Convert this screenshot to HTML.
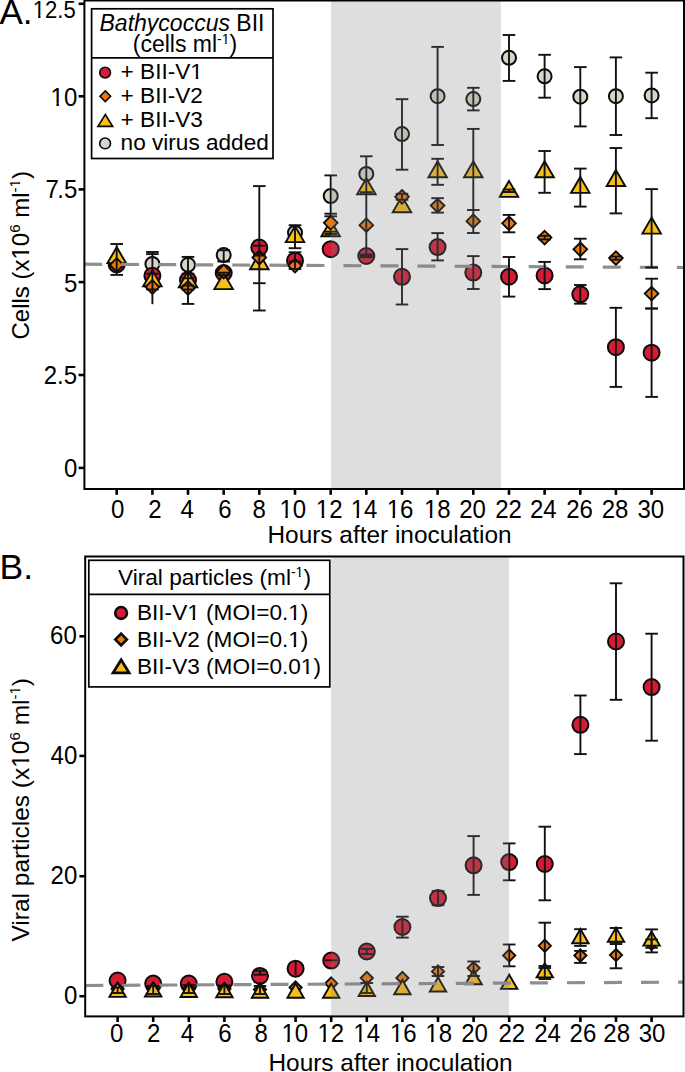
<!DOCTYPE html>
<html><head><meta charset="utf-8"><style>
html,body{margin:0;padding:0;background:#fff;width:685px;height:1072px;overflow:hidden}
svg{display:block}
text{font-family:"Liberation Sans",sans-serif;fill:#000}
</style></head><body>
<svg width="685" height="1072" viewBox="0 0 685 1072">
<rect x="0" y="0" width="685" height="1072" fill="#fff"/>
<circle cx="116.7" cy="262.0" r="7.0" fill="#d7d5c8" stroke="#0a0a0a" stroke-width="2.0"/>
<circle cx="152.4" cy="263.9" r="7.0" fill="#d7d5c8" stroke="#0a0a0a" stroke-width="2.0"/>
<circle cx="188.0" cy="264.8" r="7.0" fill="#d7d5c8" stroke="#0a0a0a" stroke-width="2.0"/>
<circle cx="223.7" cy="255.1" r="7.0" fill="#d7d5c8" stroke="#0a0a0a" stroke-width="2.0"/>
<circle cx="295.0" cy="232.7" r="7.0" fill="#d7d5c8" stroke="#0a0a0a" stroke-width="2.0"/>
<circle cx="330.7" cy="196.0" r="7.0" fill="#d7d5c8" stroke="#0a0a0a" stroke-width="2.0"/>
<circle cx="366.3" cy="173.9" r="7.0" fill="#d7d5c8" stroke="#0a0a0a" stroke-width="2.0"/>
<circle cx="402.0" cy="134.1" r="7.0" fill="#d7d5c8" stroke="#0a0a0a" stroke-width="2.0"/>
<circle cx="437.6" cy="96.2" r="7.0" fill="#d7d5c8" stroke="#0a0a0a" stroke-width="2.0"/>
<circle cx="473.3" cy="99.1" r="7.0" fill="#d7d5c8" stroke="#0a0a0a" stroke-width="2.0"/>
<circle cx="509.0" cy="57.8" r="7.0" fill="#d7d5c8" stroke="#0a0a0a" stroke-width="2.0"/>
<circle cx="544.6" cy="76.3" r="7.0" fill="#d7d5c8" stroke="#0a0a0a" stroke-width="2.0"/>
<circle cx="580.3" cy="96.7" r="7.0" fill="#d7d5c8" stroke="#0a0a0a" stroke-width="2.0"/>
<circle cx="615.9" cy="96.2" r="7.0" fill="#d7d5c8" stroke="#0a0a0a" stroke-width="2.0"/>
<circle cx="651.6" cy="95.4" r="7.0" fill="#d7d5c8" stroke="#0a0a0a" stroke-width="2.0"/>
<circle cx="116.7" cy="264.5" r="8.0" fill="#d61c34" stroke="#0a0a0a" stroke-width="2.0"/>
<circle cx="152.4" cy="275.7" r="8.0" fill="#d61c34" stroke="#0a0a0a" stroke-width="2.0"/>
<circle cx="188.0" cy="280.0" r="8.0" fill="#d61c34" stroke="#0a0a0a" stroke-width="2.0"/>
<circle cx="223.7" cy="273.0" r="8.0" fill="#d61c34" stroke="#0a0a0a" stroke-width="2.0"/>
<circle cx="259.3" cy="247.5" r="8.0" fill="#d61c34" stroke="#0a0a0a" stroke-width="2.0"/>
<circle cx="295.0" cy="260.7" r="8.0" fill="#d61c34" stroke="#0a0a0a" stroke-width="2.0"/>
<circle cx="330.7" cy="249.2" r="8.0" fill="#d61c34" stroke="#0a0a0a" stroke-width="2.0"/>
<circle cx="366.3" cy="256.0" r="8.0" fill="#d61c34" stroke="#0a0a0a" stroke-width="2.0"/>
<circle cx="402.0" cy="276.8" r="8.0" fill="#d61c34" stroke="#0a0a0a" stroke-width="2.0"/>
<circle cx="437.6" cy="247.1" r="8.0" fill="#d61c34" stroke="#0a0a0a" stroke-width="2.0"/>
<circle cx="473.3" cy="272.6" r="8.0" fill="#d61c34" stroke="#0a0a0a" stroke-width="2.0"/>
<circle cx="509.0" cy="276.7" r="8.0" fill="#d61c34" stroke="#0a0a0a" stroke-width="2.0"/>
<circle cx="544.6" cy="275.5" r="8.0" fill="#d61c34" stroke="#0a0a0a" stroke-width="2.0"/>
<circle cx="580.3" cy="294.3" r="8.0" fill="#d61c34" stroke="#0a0a0a" stroke-width="2.0"/>
<circle cx="615.9" cy="347.2" r="8.0" fill="#d61c34" stroke="#0a0a0a" stroke-width="2.0"/>
<circle cx="651.6" cy="352.7" r="8.0" fill="#d61c34" stroke="#0a0a0a" stroke-width="2.0"/>
<path d="M116.7 247.1L126.0 263.1L107.5 263.1Z" fill="#fabe1a" stroke="#0a0a0a" stroke-width="1.9"/>
<path d="M152.4 270.4L161.6 286.4L143.1 286.4Z" fill="#fabe1a" stroke="#0a0a0a" stroke-width="1.9"/>
<path d="M188.0 271.3L197.3 287.3L178.8 287.3Z" fill="#fabe1a" stroke="#0a0a0a" stroke-width="1.9"/>
<path d="M223.7 273.1L232.9 289.1L214.4 289.1Z" fill="#fabe1a" stroke="#0a0a0a" stroke-width="1.9"/>
<path d="M259.3 253.2L268.6 269.2L250.1 269.2Z" fill="#fabe1a" stroke="#0a0a0a" stroke-width="1.9"/>
<path d="M295.0 226.1L304.2 242.1L285.8 242.1Z" fill="#fabe1a" stroke="#0a0a0a" stroke-width="1.9"/>
<path d="M330.7 220.3L339.9 236.3L321.4 236.3Z" fill="#fabe1a" stroke="#0a0a0a" stroke-width="1.9"/>
<path d="M366.3 178.3L375.6 194.3L357.1 194.3Z" fill="#fabe1a" stroke="#0a0a0a" stroke-width="1.9"/>
<path d="M402.0 196.2L411.2 212.2L392.7 212.2Z" fill="#fabe1a" stroke="#0a0a0a" stroke-width="1.9"/>
<path d="M437.6 161.3L446.9 177.3L428.4 177.3Z" fill="#fabe1a" stroke="#0a0a0a" stroke-width="1.9"/>
<path d="M473.3 161.3L482.5 177.3L464.0 177.3Z" fill="#fabe1a" stroke="#0a0a0a" stroke-width="1.9"/>
<path d="M509.0 180.9L518.2 196.9L499.7 196.9Z" fill="#fabe1a" stroke="#0a0a0a" stroke-width="1.9"/>
<path d="M544.6 161.2L553.9 177.2L535.4 177.2Z" fill="#fabe1a" stroke="#0a0a0a" stroke-width="1.9"/>
<path d="M580.3 176.9L589.5 192.9L571.0 192.9Z" fill="#fabe1a" stroke="#0a0a0a" stroke-width="1.9"/>
<path d="M615.9 170.0L625.2 186.0L606.7 186.0Z" fill="#fabe1a" stroke="#0a0a0a" stroke-width="1.9"/>
<path d="M651.6 217.6L660.9 233.6L642.4 233.6Z" fill="#fabe1a" stroke="#0a0a0a" stroke-width="1.9"/>
<path d="M116.7 258.2L123.5 265.0L116.7 271.8L109.9 265.0Z" fill="#ee780c" stroke="#0a0a0a" stroke-width="1.9"/>
<path d="M152.4 280.2L159.2 287.0L152.4 293.8L145.6 287.0Z" fill="#ee780c" stroke="#0a0a0a" stroke-width="1.9"/>
<path d="M188.0 281.2L194.8 288.0L188.0 294.8L181.2 288.0Z" fill="#ee780c" stroke="#0a0a0a" stroke-width="1.9"/>
<path d="M223.7 264.7L230.5 271.5L223.7 278.3L216.9 271.5Z" fill="#ee780c" stroke="#0a0a0a" stroke-width="1.9"/>
<path d="M259.3 250.7L266.1 257.5L259.3 264.3L252.5 257.5Z" fill="#ee780c" stroke="#0a0a0a" stroke-width="1.9"/>
<path d="M295.0 258.9L301.8 265.7L295.0 272.5L288.2 265.7Z" fill="#ee780c" stroke="#0a0a0a" stroke-width="1.9"/>
<path d="M330.7 216.0L337.5 222.8L330.7 229.6L323.9 222.8Z" fill="#ee780c" stroke="#0a0a0a" stroke-width="1.9"/>
<path d="M366.3 218.4L373.1 225.2L366.3 232.0L359.5 225.2Z" fill="#ee780c" stroke="#0a0a0a" stroke-width="1.9"/>
<path d="M402.0 190.0L408.8 196.8L402.0 203.6L395.2 196.8Z" fill="#ee780c" stroke="#0a0a0a" stroke-width="1.9"/>
<path d="M437.6 198.8L444.4 205.6L437.6 212.4L430.8 205.6Z" fill="#ee780c" stroke="#0a0a0a" stroke-width="1.9"/>
<path d="M473.3 214.4L480.1 221.2L473.3 228.0L466.5 221.2Z" fill="#ee780c" stroke="#0a0a0a" stroke-width="1.9"/>
<path d="M509.0 216.5L515.8 223.3L509.0 230.1L502.2 223.3Z" fill="#ee780c" stroke="#0a0a0a" stroke-width="1.9"/>
<path d="M544.6 230.8L551.4 237.6L544.6 244.4L537.8 237.6Z" fill="#ee780c" stroke="#0a0a0a" stroke-width="1.9"/>
<path d="M580.3 242.5L587.1 249.3L580.3 256.1L573.5 249.3Z" fill="#ee780c" stroke="#0a0a0a" stroke-width="1.9"/>
<path d="M615.9 251.3L622.7 258.1L615.9 264.9L609.1 258.1Z" fill="#ee780c" stroke="#0a0a0a" stroke-width="1.9"/>
<path d="M651.6 286.8L658.4 293.6L651.6 300.4L644.8 293.6Z" fill="#ee780c" stroke="#0a0a0a" stroke-width="1.9"/>
<line x1="84.1" y1="264.2" x2="683" y2="267.5" stroke="#8e8e8e" stroke-width="3.2" stroke-dasharray="18 19.05"/>
<line x1="116.7" y1="244.0" x2="116.7" y2="274.9" stroke="#111" stroke-width="1.9"/>
<line x1="110.4" y1="244.0" x2="123.0" y2="244.0" stroke="#111" stroke-width="1.9"/>
<line x1="110.4" y1="274.9" x2="123.0" y2="274.9" stroke="#111" stroke-width="1.9"/>
<line x1="152.4" y1="252.0" x2="152.4" y2="289.5" stroke="#111" stroke-width="1.9"/>
<line x1="146.1" y1="252.0" x2="158.7" y2="252.0" stroke="#111" stroke-width="1.9"/>
<line x1="146.1" y1="289.5" x2="158.7" y2="289.5" stroke="#111" stroke-width="1.9"/>
<line x1="146.1" y1="254.1" x2="158.7" y2="254.1" stroke="#111" stroke-width="1.9"/>
<line x1="146.1" y1="273.7" x2="158.7" y2="273.7" stroke="#111" stroke-width="1.9"/>
<line x1="152.4" y1="289.5" x2="152.4" y2="304.2" stroke="#111" stroke-width="1.9"/>
<line x1="188.0" y1="256.9" x2="188.0" y2="303.9" stroke="#111" stroke-width="1.9"/>
<line x1="181.7" y1="256.9" x2="194.3" y2="256.9" stroke="#111" stroke-width="1.9"/>
<line x1="181.7" y1="303.9" x2="194.3" y2="303.9" stroke="#111" stroke-width="1.9"/>
<line x1="181.7" y1="273.7" x2="194.3" y2="273.7" stroke="#111" stroke-width="1.9"/>
<line x1="181.7" y1="278.3" x2="194.3" y2="278.3" stroke="#111" stroke-width="1.9"/>
<line x1="181.7" y1="285.5" x2="194.3" y2="285.5" stroke="#111" stroke-width="1.9"/>
<line x1="181.7" y1="289.5" x2="194.3" y2="289.5" stroke="#111" stroke-width="1.9"/>
<line x1="223.7" y1="250.2" x2="223.7" y2="261.5" stroke="#111" stroke-width="1.9"/>
<line x1="217.4" y1="250.2" x2="230.0" y2="250.2" stroke="#111" stroke-width="1.9"/>
<line x1="217.4" y1="261.5" x2="230.0" y2="261.5" stroke="#111" stroke-width="1.9"/>
<line x1="223.7" y1="272.7" x2="223.7" y2="275.3" stroke="#111" stroke-width="1.9"/>
<line x1="217.4" y1="272.7" x2="230.0" y2="272.7" stroke="#111" stroke-width="1.9"/>
<line x1="217.4" y1="275.3" x2="230.0" y2="275.3" stroke="#111" stroke-width="1.9"/>
<line x1="259.3" y1="186.1" x2="259.3" y2="310.5" stroke="#111" stroke-width="1.9"/>
<line x1="253.0" y1="186.1" x2="265.6" y2="186.1" stroke="#111" stroke-width="1.9"/>
<line x1="253.0" y1="310.5" x2="265.6" y2="310.5" stroke="#111" stroke-width="1.9"/>
<line x1="253.0" y1="245.7" x2="265.6" y2="245.7" stroke="#111" stroke-width="1.9"/>
<line x1="253.0" y1="253.8" x2="265.6" y2="253.8" stroke="#111" stroke-width="1.9"/>
<line x1="253.0" y1="255.6" x2="265.6" y2="255.6" stroke="#111" stroke-width="1.9"/>
<line x1="253.0" y1="283.2" x2="265.6" y2="283.2" stroke="#111" stroke-width="1.9"/>
<line x1="295.0" y1="225.2" x2="295.0" y2="248.2" stroke="#111" stroke-width="1.9"/>
<line x1="288.7" y1="225.2" x2="301.3" y2="225.2" stroke="#111" stroke-width="1.9"/>
<line x1="288.7" y1="248.2" x2="301.3" y2="248.2" stroke="#111" stroke-width="1.9"/>
<line x1="295.0" y1="252.3" x2="295.0" y2="269.0" stroke="#111" stroke-width="1.9"/>
<line x1="288.7" y1="252.3" x2="301.3" y2="252.3" stroke="#111" stroke-width="1.9"/>
<line x1="288.7" y1="269.0" x2="301.3" y2="269.0" stroke="#111" stroke-width="1.9"/>
<line x1="288.7" y1="261.5" x2="301.3" y2="261.5" stroke="#111" stroke-width="1.9"/>
<line x1="330.7" y1="175.4" x2="330.7" y2="216.3" stroke="#111" stroke-width="1.9"/>
<line x1="324.4" y1="175.4" x2="337.0" y2="175.4" stroke="#111" stroke-width="1.9"/>
<line x1="324.4" y1="216.3" x2="337.0" y2="216.3" stroke="#111" stroke-width="1.9"/>
<line x1="324.4" y1="213.7" x2="337.0" y2="213.7" stroke="#111" stroke-width="1.9"/>
<line x1="330.7" y1="231.7" x2="330.7" y2="234.0" stroke="#111" stroke-width="1.9"/>
<line x1="324.4" y1="231.7" x2="337.0" y2="231.7" stroke="#111" stroke-width="1.9"/>
<line x1="324.4" y1="234.0" x2="337.0" y2="234.0" stroke="#111" stroke-width="1.9"/>
<line x1="366.3" y1="156.3" x2="366.3" y2="192.2" stroke="#111" stroke-width="1.9"/>
<line x1="360.0" y1="156.3" x2="372.6" y2="156.3" stroke="#111" stroke-width="1.9"/>
<line x1="360.0" y1="192.2" x2="372.6" y2="192.2" stroke="#111" stroke-width="1.9"/>
<line x1="366.3" y1="192.2" x2="366.3" y2="256.0" stroke="#111" stroke-width="1.9"/>
<line x1="360.0" y1="256.0" x2="372.6" y2="256.0" stroke="#111" stroke-width="1.9"/>
<line x1="366.3" y1="254.6" x2="366.3" y2="257.2" stroke="#111" stroke-width="1.9"/>
<line x1="360.0" y1="254.6" x2="372.6" y2="254.6" stroke="#111" stroke-width="1.9"/>
<line x1="360.0" y1="257.2" x2="372.6" y2="257.2" stroke="#111" stroke-width="1.9"/>
<line x1="402.0" y1="99.2" x2="402.0" y2="169.7" stroke="#111" stroke-width="1.9"/>
<line x1="395.7" y1="99.2" x2="408.3" y2="99.2" stroke="#111" stroke-width="1.9"/>
<line x1="395.7" y1="169.7" x2="408.3" y2="169.7" stroke="#111" stroke-width="1.9"/>
<line x1="402.0" y1="193.8" x2="402.0" y2="199.8" stroke="#111" stroke-width="1.9"/>
<line x1="395.7" y1="193.8" x2="408.3" y2="193.8" stroke="#111" stroke-width="1.9"/>
<line x1="395.7" y1="199.8" x2="408.3" y2="199.8" stroke="#111" stroke-width="1.9"/>
<line x1="402.0" y1="249.1" x2="402.0" y2="304.5" stroke="#111" stroke-width="1.9"/>
<line x1="395.7" y1="249.1" x2="408.3" y2="249.1" stroke="#111" stroke-width="1.9"/>
<line x1="395.7" y1="304.5" x2="408.3" y2="304.5" stroke="#111" stroke-width="1.9"/>
<line x1="437.6" y1="46.9" x2="437.6" y2="145.0" stroke="#111" stroke-width="1.9"/>
<line x1="431.3" y1="46.9" x2="443.9" y2="46.9" stroke="#111" stroke-width="1.9"/>
<line x1="431.3" y1="145.0" x2="443.9" y2="145.0" stroke="#111" stroke-width="1.9"/>
<line x1="437.6" y1="158.8" x2="437.6" y2="184.8" stroke="#111" stroke-width="1.9"/>
<line x1="431.3" y1="158.8" x2="443.9" y2="158.8" stroke="#111" stroke-width="1.9"/>
<line x1="431.3" y1="184.8" x2="443.9" y2="184.8" stroke="#111" stroke-width="1.9"/>
<line x1="437.6" y1="198.2" x2="437.6" y2="212.6" stroke="#111" stroke-width="1.9"/>
<line x1="431.3" y1="198.2" x2="443.9" y2="198.2" stroke="#111" stroke-width="1.9"/>
<line x1="431.3" y1="212.6" x2="443.9" y2="212.6" stroke="#111" stroke-width="1.9"/>
<line x1="437.6" y1="233.1" x2="437.6" y2="260.4" stroke="#111" stroke-width="1.9"/>
<line x1="431.3" y1="233.1" x2="443.9" y2="233.1" stroke="#111" stroke-width="1.9"/>
<line x1="431.3" y1="260.4" x2="443.9" y2="260.4" stroke="#111" stroke-width="1.9"/>
<line x1="473.3" y1="87.8" x2="473.3" y2="110.4" stroke="#111" stroke-width="1.9"/>
<line x1="467.0" y1="87.8" x2="479.6" y2="87.8" stroke="#111" stroke-width="1.9"/>
<line x1="467.0" y1="110.4" x2="479.6" y2="110.4" stroke="#111" stroke-width="1.9"/>
<line x1="473.3" y1="128.9" x2="473.3" y2="210.0" stroke="#111" stroke-width="1.9"/>
<line x1="467.0" y1="128.9" x2="479.6" y2="128.9" stroke="#111" stroke-width="1.9"/>
<line x1="467.0" y1="210.0" x2="479.6" y2="210.0" stroke="#111" stroke-width="1.9"/>
<line x1="473.3" y1="210.0" x2="473.3" y2="233.0" stroke="#111" stroke-width="1.9"/>
<line x1="467.0" y1="233.0" x2="479.6" y2="233.0" stroke="#111" stroke-width="1.9"/>
<line x1="473.3" y1="256.1" x2="473.3" y2="289.0" stroke="#111" stroke-width="1.9"/>
<line x1="467.0" y1="256.1" x2="479.6" y2="256.1" stroke="#111" stroke-width="1.9"/>
<line x1="467.0" y1="289.0" x2="479.6" y2="289.0" stroke="#111" stroke-width="1.9"/>
<line x1="509.0" y1="35.0" x2="509.0" y2="80.9" stroke="#111" stroke-width="1.9"/>
<line x1="502.7" y1="35.0" x2="515.3" y2="35.0" stroke="#111" stroke-width="1.9"/>
<line x1="502.7" y1="80.9" x2="515.3" y2="80.9" stroke="#111" stroke-width="1.9"/>
<line x1="509.0" y1="189.5" x2="509.0" y2="192.0" stroke="#111" stroke-width="1.9"/>
<line x1="502.7" y1="189.5" x2="515.3" y2="189.5" stroke="#111" stroke-width="1.9"/>
<line x1="502.7" y1="192.0" x2="515.3" y2="192.0" stroke="#111" stroke-width="1.9"/>
<line x1="509.0" y1="214.9" x2="509.0" y2="232.3" stroke="#111" stroke-width="1.9"/>
<line x1="502.7" y1="214.9" x2="515.3" y2="214.9" stroke="#111" stroke-width="1.9"/>
<line x1="502.7" y1="232.3" x2="515.3" y2="232.3" stroke="#111" stroke-width="1.9"/>
<line x1="509.0" y1="257.0" x2="509.0" y2="296.6" stroke="#111" stroke-width="1.9"/>
<line x1="502.7" y1="257.0" x2="515.3" y2="257.0" stroke="#111" stroke-width="1.9"/>
<line x1="502.7" y1="296.6" x2="515.3" y2="296.6" stroke="#111" stroke-width="1.9"/>
<line x1="544.6" y1="54.8" x2="544.6" y2="97.7" stroke="#111" stroke-width="1.9"/>
<line x1="538.3" y1="54.8" x2="550.9" y2="54.8" stroke="#111" stroke-width="1.9"/>
<line x1="538.3" y1="97.7" x2="550.9" y2="97.7" stroke="#111" stroke-width="1.9"/>
<line x1="544.6" y1="151.0" x2="544.6" y2="192.8" stroke="#111" stroke-width="1.9"/>
<line x1="538.3" y1="151.0" x2="550.9" y2="151.0" stroke="#111" stroke-width="1.9"/>
<line x1="538.3" y1="192.8" x2="550.9" y2="192.8" stroke="#111" stroke-width="1.9"/>
<line x1="544.6" y1="235.8" x2="544.6" y2="239.4" stroke="#111" stroke-width="1.9"/>
<line x1="538.3" y1="235.8" x2="550.9" y2="235.8" stroke="#111" stroke-width="1.9"/>
<line x1="538.3" y1="239.4" x2="550.9" y2="239.4" stroke="#111" stroke-width="1.9"/>
<line x1="544.6" y1="261.9" x2="544.6" y2="289.1" stroke="#111" stroke-width="1.9"/>
<line x1="538.3" y1="261.9" x2="550.9" y2="261.9" stroke="#111" stroke-width="1.9"/>
<line x1="538.3" y1="289.1" x2="550.9" y2="289.1" stroke="#111" stroke-width="1.9"/>
<line x1="580.3" y1="67.1" x2="580.3" y2="126.4" stroke="#111" stroke-width="1.9"/>
<line x1="574.0" y1="67.1" x2="586.6" y2="67.1" stroke="#111" stroke-width="1.9"/>
<line x1="574.0" y1="126.4" x2="586.6" y2="126.4" stroke="#111" stroke-width="1.9"/>
<line x1="580.3" y1="168.6" x2="580.3" y2="206.6" stroke="#111" stroke-width="1.9"/>
<line x1="574.0" y1="168.6" x2="586.6" y2="168.6" stroke="#111" stroke-width="1.9"/>
<line x1="574.0" y1="206.6" x2="586.6" y2="206.6" stroke="#111" stroke-width="1.9"/>
<line x1="580.3" y1="238.7" x2="580.3" y2="259.3" stroke="#111" stroke-width="1.9"/>
<line x1="574.0" y1="238.7" x2="586.6" y2="238.7" stroke="#111" stroke-width="1.9"/>
<line x1="574.0" y1="259.3" x2="586.6" y2="259.3" stroke="#111" stroke-width="1.9"/>
<line x1="580.3" y1="285.0" x2="580.3" y2="303.7" stroke="#111" stroke-width="1.9"/>
<line x1="574.0" y1="285.0" x2="586.6" y2="285.0" stroke="#111" stroke-width="1.9"/>
<line x1="574.0" y1="303.7" x2="586.6" y2="303.7" stroke="#111" stroke-width="1.9"/>
<line x1="615.9" y1="57.4" x2="615.9" y2="135.0" stroke="#111" stroke-width="1.9"/>
<line x1="609.6" y1="57.4" x2="622.2" y2="57.4" stroke="#111" stroke-width="1.9"/>
<line x1="609.6" y1="135.0" x2="622.2" y2="135.0" stroke="#111" stroke-width="1.9"/>
<line x1="615.9" y1="148.0" x2="615.9" y2="213.4" stroke="#111" stroke-width="1.9"/>
<line x1="609.6" y1="148.0" x2="622.2" y2="148.0" stroke="#111" stroke-width="1.9"/>
<line x1="609.6" y1="213.4" x2="622.2" y2="213.4" stroke="#111" stroke-width="1.9"/>
<line x1="615.9" y1="256.5" x2="615.9" y2="259.7" stroke="#111" stroke-width="1.9"/>
<line x1="609.6" y1="256.5" x2="622.2" y2="256.5" stroke="#111" stroke-width="1.9"/>
<line x1="609.6" y1="259.7" x2="622.2" y2="259.7" stroke="#111" stroke-width="1.9"/>
<line x1="615.9" y1="307.8" x2="615.9" y2="386.9" stroke="#111" stroke-width="1.9"/>
<line x1="609.6" y1="307.8" x2="622.2" y2="307.8" stroke="#111" stroke-width="1.9"/>
<line x1="609.6" y1="386.9" x2="622.2" y2="386.9" stroke="#111" stroke-width="1.9"/>
<line x1="651.6" y1="72.7" x2="651.6" y2="118.2" stroke="#111" stroke-width="1.9"/>
<line x1="645.3" y1="72.7" x2="657.9" y2="72.7" stroke="#111" stroke-width="1.9"/>
<line x1="645.3" y1="118.2" x2="657.9" y2="118.2" stroke="#111" stroke-width="1.9"/>
<line x1="651.6" y1="189.1" x2="651.6" y2="267.5" stroke="#111" stroke-width="1.9"/>
<line x1="645.3" y1="189.1" x2="657.9" y2="189.1" stroke="#111" stroke-width="1.9"/>
<line x1="645.3" y1="267.5" x2="657.9" y2="267.5" stroke="#111" stroke-width="1.9"/>
<line x1="651.6" y1="278.7" x2="651.6" y2="308.5" stroke="#111" stroke-width="1.9"/>
<line x1="645.3" y1="278.7" x2="657.9" y2="278.7" stroke="#111" stroke-width="1.9"/>
<line x1="645.3" y1="308.5" x2="657.9" y2="308.5" stroke="#111" stroke-width="1.9"/>
<line x1="651.6" y1="308.5" x2="651.6" y2="396.9" stroke="#111" stroke-width="1.9"/>
<line x1="645.3" y1="308.5" x2="657.9" y2="308.5" stroke="#111" stroke-width="1.9"/>
<line x1="645.3" y1="396.9" x2="657.9" y2="396.9" stroke="#111" stroke-width="1.9"/>
<rect x="331" y="1" width="169.8" height="487" fill="#808080" fill-opacity="0.26"/>
<rect x="84.4" y="0.5" width="599.6" height="488.5" fill="none" stroke="#000" stroke-width="2"/>
<line x1="78.6" y1="467.9" x2="84" y2="467.9" stroke="#000" stroke-width="2.6"/>
<line x1="78.6" y1="375" x2="84" y2="375" stroke="#000" stroke-width="2.6"/>
<line x1="78.6" y1="282.1" x2="84" y2="282.1" stroke="#000" stroke-width="2.6"/>
<line x1="78.6" y1="189.4" x2="84" y2="189.4" stroke="#000" stroke-width="2.6"/>
<line x1="78.6" y1="96.3" x2="84" y2="96.3" stroke="#000" stroke-width="2.6"/>
<line x1="78.6" y1="3.8" x2="84" y2="3.8" stroke="#000" stroke-width="2.6"/>
<text class="nf" transform="translate(77.30,476.90) scale(0.96,1)" x="0" y="0" font-family="Liberation Sans, sans-serif" font-size="25" text-anchor="end">0</text>
<text class="nf" transform="translate(77.04,383.70) scale(0.96,1)" x="0" y="0" font-family="Liberation Sans, sans-serif" font-size="25" text-anchor="end">2.5</text>
<text class="nf" transform="translate(77.38,291.50) scale(0.96,1)" x="0" y="0" font-family="Liberation Sans, sans-serif" font-size="25" text-anchor="end">5</text>
<text class="nf" transform="translate(77.38,198.20) scale(0.96,1)" x="0" y="0" font-family="Liberation Sans, sans-serif" font-size="25" text-anchor="end">7<tspan dx="-1.6">.</tspan>5</text>
<text class="nf" transform="translate(77.26,105.55) scale(0.96,1)" x="0" y="0" font-family="Liberation Sans, sans-serif" font-size="25" text-anchor="end">10</text>
<text class="nf" transform="translate(75.72,17.82) scale(0.96,1)" x="0" y="0" font-family="Liberation Sans, sans-serif" font-size="23" text-anchor="end">12.5</text>
<line x1="116.7" y1="489" x2="116.7" y2="494.8" stroke="#000" stroke-width="2.6"/>
<text class="nf" transform="translate(117.57,517.50) scale(0.96,1)" x="0" y="0" font-family="Liberation Sans, sans-serif" font-size="25" text-anchor="middle">0</text>
<line x1="152.4" y1="489" x2="152.4" y2="494.8" stroke="#000" stroke-width="2.6"/>
<text class="nf" transform="translate(155.02,517.50) scale(0.96,1)" x="0" y="0" font-family="Liberation Sans, sans-serif" font-size="25" text-anchor="middle">2</text>
<line x1="188.0" y1="489" x2="188.0" y2="494.8" stroke="#000" stroke-width="2.6"/>
<text class="nf" transform="translate(187.06,517.53) scale(0.96,1)" x="0" y="0" font-family="Liberation Sans, sans-serif" font-size="25" text-anchor="middle">4</text>
<line x1="223.7" y1="489" x2="223.7" y2="494.8" stroke="#000" stroke-width="2.6"/>
<text class="nf" transform="translate(224.86,517.50) scale(0.96,1)" x="0" y="0" font-family="Liberation Sans, sans-serif" font-size="25" text-anchor="middle">6</text>
<line x1="259.3" y1="489" x2="259.3" y2="494.8" stroke="#000" stroke-width="2.6"/>
<text class="nf" transform="translate(259.23,517.50) scale(0.96,1)" x="0" y="0" font-family="Liberation Sans, sans-serif" font-size="25" text-anchor="middle">8</text>
<line x1="295.0" y1="489" x2="295.0" y2="494.8" stroke="#000" stroke-width="2.6"/>
<text class="nf" transform="translate(292.80,517.50) scale(0.96,1)" x="0" y="0" font-family="Liberation Sans, sans-serif" font-size="25" text-anchor="middle">10</text>
<line x1="330.7" y1="489" x2="330.7" y2="494.8" stroke="#000" stroke-width="2.6"/>
<text class="nf" transform="translate(329.18,517.50) scale(0.96,1)" x="0" y="0" font-family="Liberation Sans, sans-serif" font-size="25" text-anchor="middle">12</text>
<line x1="366.3" y1="489" x2="366.3" y2="494.8" stroke="#000" stroke-width="2.6"/>
<text class="nf" transform="translate(364.03,517.50) scale(0.96,1)" x="0" y="0" font-family="Liberation Sans, sans-serif" font-size="25" text-anchor="middle">14</text>
<line x1="402.0" y1="489" x2="402.0" y2="494.8" stroke="#000" stroke-width="2.6"/>
<text class="nf" transform="translate(400.06,517.50) scale(0.96,1)" x="0" y="0" font-family="Liberation Sans, sans-serif" font-size="25" text-anchor="middle">16</text>
<line x1="437.6" y1="489" x2="437.6" y2="494.8" stroke="#000" stroke-width="2.6"/>
<text class="nf" transform="translate(437.34,517.50) scale(0.96,1)" x="0" y="0" font-family="Liberation Sans, sans-serif" font-size="25" text-anchor="middle">18</text>
<line x1="473.3" y1="489" x2="473.3" y2="494.8" stroke="#000" stroke-width="2.6"/>
<text class="nf" transform="translate(472.58,517.50) scale(0.96,1)" x="0" y="0" font-family="Liberation Sans, sans-serif" font-size="25" text-anchor="middle">20</text>
<line x1="509.0" y1="489" x2="509.0" y2="494.8" stroke="#000" stroke-width="2.6"/>
<text class="nf" transform="translate(508.55,517.50) scale(0.96,1)" x="0" y="0" font-family="Liberation Sans, sans-serif" font-size="25" text-anchor="middle">22</text>
<line x1="544.6" y1="489" x2="544.6" y2="494.8" stroke="#000" stroke-width="2.6"/>
<text class="nf" transform="translate(543.30,517.50) scale(0.96,1)" x="0" y="0" font-family="Liberation Sans, sans-serif" font-size="25" text-anchor="middle">24</text>
<line x1="580.3" y1="489" x2="580.3" y2="494.8" stroke="#000" stroke-width="2.6"/>
<text class="nf" transform="translate(579.58,517.50) scale(0.96,1)" x="0" y="0" font-family="Liberation Sans, sans-serif" font-size="25" text-anchor="middle">26</text>
<line x1="615.9" y1="489" x2="615.9" y2="494.8" stroke="#000" stroke-width="2.6"/>
<text class="nf" transform="translate(615.12,517.50) scale(0.96,1)" x="0" y="0" font-family="Liberation Sans, sans-serif" font-size="25" text-anchor="middle">28</text>
<line x1="651.6" y1="489" x2="651.6" y2="494.8" stroke="#000" stroke-width="2.6"/>
<text class="nf" transform="translate(650.72,517.50) scale(0.96,1)" x="0" y="0" font-family="Liberation Sans, sans-serif" font-size="25" text-anchor="middle">30</text>
<text x="267.5" y="543.2" font-family="Liberation Sans, sans-serif" font-size="24.4">Hours after inoculation</text>
<text class="nf" transform="translate(29,339.5) rotate(-90)" font-family="Liberation Sans, sans-serif" font-size="24">Cells (x10<tspan font-size="15" dy="-9">6</tspan><tspan dy="9"> ml</tspan><tspan font-size="15" dy="-9">-1</tspan><tspan dy="9">)</tspan></text>
<text x="-0.5" y="24.3" font-family="Liberation Sans, sans-serif" font-size="35">A.</text>
<rect x="91.6" y="8.8" width="181.4" height="149.7" fill="#fff" stroke="#000" stroke-width="1.7"/>
<line x1="91.6" y1="57.8" x2="273" y2="57.8" stroke="#000" stroke-width="1.7"/>
<text x="182" y="30.7" font-family="Liberation Sans, sans-serif" font-size="23" text-anchor="middle"><tspan font-style="italic">Bathycoccus</tspan> BII</text>
<text class="nf" x="185" y="51.6" font-family="Liberation Sans, sans-serif" font-size="23" text-anchor="middle">(cells ml<tspan font-size="14" dy="-8">-1</tspan><tspan dy="8">)</tspan></text>
<circle cx="105.1" cy="72.6" r="5.4" fill="#d61c34" stroke="#0a0a0a" stroke-width="1.6"/>
<path d="M105.3 90.9L110.6 96.2L105.3 101.5L100.0 96.2Z" fill="#ee780c" stroke="#0a0a0a" stroke-width="1.6"/>
<path d="M105.3 114.5L112.6 126.3L98.0 126.3Z" fill="#fabe1a" stroke="#0a0a0a" stroke-width="1.7"/>
<circle cx="105.1" cy="143.4" r="5.4" fill="#d7d5c8" stroke="#0a0a0a" stroke-width="1.6"/>
<text class="nf" x="120.6" y="79" font-family="Liberation Sans, sans-serif" font-size="22.6">+ BII-V1</text>
<text class="nf" x="120.6" y="103" font-family="Liberation Sans, sans-serif" font-size="22.6">+ BII-V2</text>
<text class="nf" x="120.6" y="127" font-family="Liberation Sans, sans-serif" font-size="22.6">+ BII-V3</text>
<text class="nf" x="120.6" y="149.5" font-family="Liberation Sans, sans-serif" font-size="22.6">no virus added</text>
<circle cx="117.6" cy="980.5" r="8.0" fill="#d61c34" stroke="#0a0a0a" stroke-width="2.0"/>
<circle cx="153.2" cy="983.6" r="8.0" fill="#d61c34" stroke="#0a0a0a" stroke-width="2.0"/>
<circle cx="188.8" cy="983.6" r="8.0" fill="#d61c34" stroke="#0a0a0a" stroke-width="2.0"/>
<circle cx="224.4" cy="981.8" r="8.0" fill="#d61c34" stroke="#0a0a0a" stroke-width="2.0"/>
<circle cx="260.0" cy="975.9" r="8.0" fill="#d61c34" stroke="#0a0a0a" stroke-width="2.0"/>
<circle cx="295.6" cy="968.7" r="8.0" fill="#d61c34" stroke="#0a0a0a" stroke-width="2.0"/>
<circle cx="331.2" cy="960.6" r="8.0" fill="#d61c34" stroke="#0a0a0a" stroke-width="2.0"/>
<circle cx="366.8" cy="951.5" r="8.0" fill="#d61c34" stroke="#0a0a0a" stroke-width="2.0"/>
<circle cx="402.4" cy="927.0" r="8.0" fill="#d61c34" stroke="#0a0a0a" stroke-width="2.0"/>
<circle cx="438.0" cy="898.1" r="8.0" fill="#d61c34" stroke="#0a0a0a" stroke-width="2.0"/>
<circle cx="473.6" cy="865.3" r="8.0" fill="#d61c34" stroke="#0a0a0a" stroke-width="2.0"/>
<circle cx="509.2" cy="862.1" r="8.0" fill="#d61c34" stroke="#0a0a0a" stroke-width="2.0"/>
<circle cx="544.8" cy="864.0" r="8.0" fill="#d61c34" stroke="#0a0a0a" stroke-width="2.0"/>
<circle cx="580.4" cy="724.8" r="8.0" fill="#d61c34" stroke="#0a0a0a" stroke-width="2.0"/>
<circle cx="616.0" cy="641.5" r="8.0" fill="#d61c34" stroke="#0a0a0a" stroke-width="2.0"/>
<circle cx="651.6" cy="687.1" r="8.0" fill="#d61c34" stroke="#0a0a0a" stroke-width="2.0"/>
<path d="M117.6 982.9L123.7 989.0L117.6 995.1L111.5 989.0Z" fill="#ee780c" stroke="#0a0a0a" stroke-width="1.9"/>
<path d="M153.2 982.9L159.3 989.0L153.2 995.1L147.1 989.0Z" fill="#ee780c" stroke="#0a0a0a" stroke-width="1.9"/>
<path d="M188.8 982.9L194.9 989.0L188.8 995.1L182.7 989.0Z" fill="#ee780c" stroke="#0a0a0a" stroke-width="1.9"/>
<path d="M224.4 982.9L230.5 989.0L224.4 995.1L218.3 989.0Z" fill="#ee780c" stroke="#0a0a0a" stroke-width="1.9"/>
<path d="M260.0 983.4L266.1 989.5L260.0 995.6L253.9 989.5Z" fill="#ee780c" stroke="#0a0a0a" stroke-width="1.9"/>
<path d="M295.6 981.4L301.7 987.5L295.6 993.6L289.5 987.5Z" fill="#ee780c" stroke="#0a0a0a" stroke-width="1.9"/>
<path d="M331.2 977.4L337.3 983.5L331.2 989.6L325.1 983.5Z" fill="#ee780c" stroke="#0a0a0a" stroke-width="1.9"/>
<path d="M366.8 971.9L372.9 978.0L366.8 984.1L360.7 978.0Z" fill="#ee780c" stroke="#0a0a0a" stroke-width="1.9"/>
<path d="M402.4 971.9L408.5 978.0L402.4 984.1L396.3 978.0Z" fill="#ee780c" stroke="#0a0a0a" stroke-width="1.9"/>
<path d="M438.0 965.3L444.1 971.4L438.0 977.5L431.9 971.4Z" fill="#ee780c" stroke="#0a0a0a" stroke-width="1.9"/>
<path d="M473.6 962.0L479.7 968.1L473.6 974.2L467.5 968.1Z" fill="#ee780c" stroke="#0a0a0a" stroke-width="1.9"/>
<path d="M509.2 949.4L515.3 955.5L509.2 961.6L503.1 955.5Z" fill="#ee780c" stroke="#0a0a0a" stroke-width="1.9"/>
<path d="M544.8 939.7L550.9 945.8L544.8 951.9L538.7 945.8Z" fill="#ee780c" stroke="#0a0a0a" stroke-width="1.9"/>
<path d="M580.4 949.4L586.5 955.5L580.4 961.6L574.3 955.5Z" fill="#ee780c" stroke="#0a0a0a" stroke-width="1.9"/>
<path d="M616.0 949.0L622.1 955.1L616.0 961.2L609.9 955.1Z" fill="#ee780c" stroke="#0a0a0a" stroke-width="1.9"/>
<path d="M651.6 937.6L657.7 943.7L651.6 949.8L645.5 943.7Z" fill="#ee780c" stroke="#0a0a0a" stroke-width="1.9"/>
<path d="M117.6 982.7L125.8 996.9L109.4 996.9Z" fill="#fabe1a" stroke="#0a0a0a" stroke-width="1.9"/>
<path d="M153.2 982.3L161.4 996.5L145.0 996.5Z" fill="#fabe1a" stroke="#0a0a0a" stroke-width="1.9"/>
<path d="M188.8 982.8L197.0 997.0L180.6 997.0Z" fill="#fabe1a" stroke="#0a0a0a" stroke-width="1.9"/>
<path d="M224.4 983.1L232.6 997.3L216.2 997.3Z" fill="#fabe1a" stroke="#0a0a0a" stroke-width="1.9"/>
<path d="M260.0 983.6L268.2 997.8L251.8 997.8Z" fill="#fabe1a" stroke="#0a0a0a" stroke-width="1.9"/>
<path d="M295.6 983.6L303.8 997.8L287.4 997.8Z" fill="#fabe1a" stroke="#0a0a0a" stroke-width="1.9"/>
<path d="M331.2 983.6L339.4 997.8L323.0 997.8Z" fill="#fabe1a" stroke="#0a0a0a" stroke-width="1.9"/>
<path d="M366.8 981.8L375.0 996.0L358.6 996.0Z" fill="#fabe1a" stroke="#0a0a0a" stroke-width="1.9"/>
<path d="M402.4 980.0L410.6 994.2L394.2 994.2Z" fill="#fabe1a" stroke="#0a0a0a" stroke-width="1.9"/>
<path d="M438.0 977.3L446.2 991.5L429.8 991.5Z" fill="#fabe1a" stroke="#0a0a0a" stroke-width="1.9"/>
<path d="M473.6 970.0L481.8 984.2L465.4 984.2Z" fill="#fabe1a" stroke="#0a0a0a" stroke-width="1.9"/>
<path d="M509.2 974.7L517.4 988.9L501.0 988.9Z" fill="#fabe1a" stroke="#0a0a0a" stroke-width="1.9"/>
<path d="M544.8 963.2L553.0 977.4L536.6 977.4Z" fill="#fabe1a" stroke="#0a0a0a" stroke-width="1.9"/>
<path d="M580.4 929.0L588.6 943.2L572.2 943.2Z" fill="#fabe1a" stroke="#0a0a0a" stroke-width="1.9"/>
<path d="M616.0 927.6L624.2 941.8L607.8 941.8Z" fill="#fabe1a" stroke="#0a0a0a" stroke-width="1.9"/>
<path d="M651.6 931.4L659.8 945.6L643.4 945.6Z" fill="#fabe1a" stroke="#0a0a0a" stroke-width="1.9"/>
<line x1="85.3" y1="985.5" x2="683" y2="982.1" stroke="#8e8e8e" stroke-width="3.2" stroke-dasharray="18 19.05"/>
<line x1="117.6" y1="987.5" x2="117.6" y2="993.0" stroke="#111" stroke-width="1.9"/>
<line x1="111.3" y1="987.5" x2="123.9" y2="987.5" stroke="#111" stroke-width="1.9"/>
<line x1="111.3" y1="993.0" x2="123.9" y2="993.0" stroke="#111" stroke-width="1.9"/>
<line x1="153.2" y1="986.0" x2="153.2" y2="994.0" stroke="#111" stroke-width="1.9"/>
<line x1="146.9" y1="986.0" x2="159.5" y2="986.0" stroke="#111" stroke-width="1.9"/>
<line x1="146.9" y1="994.0" x2="159.5" y2="994.0" stroke="#111" stroke-width="1.9"/>
<line x1="188.8" y1="985.0" x2="188.8" y2="993.0" stroke="#111" stroke-width="1.9"/>
<line x1="182.5" y1="985.0" x2="195.1" y2="985.0" stroke="#111" stroke-width="1.9"/>
<line x1="182.5" y1="993.0" x2="195.1" y2="993.0" stroke="#111" stroke-width="1.9"/>
<line x1="224.4" y1="985.5" x2="224.4" y2="994.0" stroke="#111" stroke-width="1.9"/>
<line x1="218.1" y1="985.5" x2="230.7" y2="985.5" stroke="#111" stroke-width="1.9"/>
<line x1="218.1" y1="994.0" x2="230.7" y2="994.0" stroke="#111" stroke-width="1.9"/>
<line x1="260.0" y1="970.7" x2="260.0" y2="974.7" stroke="#111" stroke-width="1.9"/>
<line x1="253.7" y1="970.7" x2="266.3" y2="970.7" stroke="#111" stroke-width="1.9"/>
<line x1="253.7" y1="974.7" x2="266.3" y2="974.7" stroke="#111" stroke-width="1.9"/>
<line x1="260.0" y1="986.0" x2="260.0" y2="994.0" stroke="#111" stroke-width="1.9"/>
<line x1="253.7" y1="986.0" x2="266.3" y2="986.0" stroke="#111" stroke-width="1.9"/>
<line x1="253.7" y1="994.0" x2="266.3" y2="994.0" stroke="#111" stroke-width="1.9"/>
<line x1="295.6" y1="962.0" x2="295.6" y2="975.0" stroke="#111" stroke-width="1.9"/>
<line x1="324.9" y1="960.3" x2="337.5" y2="960.3" stroke="#111" stroke-width="1.9"/>
<line x1="366.8" y1="949.0" x2="366.8" y2="954.0" stroke="#111" stroke-width="1.9"/>
<line x1="360.5" y1="949.0" x2="373.1" y2="949.0" stroke="#111" stroke-width="1.9"/>
<line x1="360.5" y1="954.0" x2="373.1" y2="954.0" stroke="#111" stroke-width="1.9"/>
<line x1="366.8" y1="983.0" x2="366.8" y2="993.0" stroke="#111" stroke-width="1.9"/>
<line x1="360.5" y1="983.0" x2="373.1" y2="983.0" stroke="#111" stroke-width="1.9"/>
<line x1="360.5" y1="993.0" x2="373.1" y2="993.0" stroke="#111" stroke-width="1.9"/>
<line x1="402.4" y1="916.7" x2="402.4" y2="937.6" stroke="#111" stroke-width="1.9"/>
<line x1="396.1" y1="916.7" x2="408.7" y2="916.7" stroke="#111" stroke-width="1.9"/>
<line x1="396.1" y1="937.6" x2="408.7" y2="937.6" stroke="#111" stroke-width="1.9"/>
<line x1="438.0" y1="891.0" x2="438.0" y2="905.2" stroke="#111" stroke-width="1.9"/>
<line x1="431.7" y1="891.0" x2="444.3" y2="891.0" stroke="#111" stroke-width="1.9"/>
<line x1="431.7" y1="905.2" x2="444.3" y2="905.2" stroke="#111" stroke-width="1.9"/>
<line x1="438.0" y1="967.0" x2="438.0" y2="976.0" stroke="#111" stroke-width="1.9"/>
<line x1="431.7" y1="967.0" x2="444.3" y2="967.0" stroke="#111" stroke-width="1.9"/>
<line x1="431.7" y1="976.0" x2="444.3" y2="976.0" stroke="#111" stroke-width="1.9"/>
<line x1="473.6" y1="836.1" x2="473.6" y2="894.9" stroke="#111" stroke-width="1.9"/>
<line x1="467.3" y1="836.1" x2="479.9" y2="836.1" stroke="#111" stroke-width="1.9"/>
<line x1="467.3" y1="894.9" x2="479.9" y2="894.9" stroke="#111" stroke-width="1.9"/>
<line x1="473.6" y1="961.5" x2="473.6" y2="976.0" stroke="#111" stroke-width="1.9"/>
<line x1="467.3" y1="961.5" x2="479.9" y2="961.5" stroke="#111" stroke-width="1.9"/>
<line x1="467.3" y1="976.0" x2="479.9" y2="976.0" stroke="#111" stroke-width="1.9"/>
<line x1="509.2" y1="843.4" x2="509.2" y2="880.3" stroke="#111" stroke-width="1.9"/>
<line x1="502.9" y1="843.4" x2="515.5" y2="843.4" stroke="#111" stroke-width="1.9"/>
<line x1="502.9" y1="880.3" x2="515.5" y2="880.3" stroke="#111" stroke-width="1.9"/>
<line x1="509.2" y1="944.5" x2="509.2" y2="966.3" stroke="#111" stroke-width="1.9"/>
<line x1="502.9" y1="944.5" x2="515.5" y2="944.5" stroke="#111" stroke-width="1.9"/>
<line x1="502.9" y1="966.3" x2="515.5" y2="966.3" stroke="#111" stroke-width="1.9"/>
<line x1="544.8" y1="826.7" x2="544.8" y2="900.3" stroke="#111" stroke-width="1.9"/>
<line x1="538.5" y1="826.7" x2="551.1" y2="826.7" stroke="#111" stroke-width="1.9"/>
<line x1="538.5" y1="900.3" x2="551.1" y2="900.3" stroke="#111" stroke-width="1.9"/>
<line x1="544.8" y1="922.7" x2="544.8" y2="968.0" stroke="#111" stroke-width="1.9"/>
<line x1="538.5" y1="922.7" x2="551.1" y2="922.7" stroke="#111" stroke-width="1.9"/>
<line x1="538.5" y1="968.0" x2="551.1" y2="968.0" stroke="#111" stroke-width="1.9"/>
<line x1="544.8" y1="966.0" x2="544.8" y2="979.0" stroke="#111" stroke-width="1.9"/>
<line x1="538.5" y1="966.0" x2="551.1" y2="966.0" stroke="#111" stroke-width="1.9"/>
<line x1="538.5" y1="979.0" x2="551.1" y2="979.0" stroke="#111" stroke-width="1.9"/>
<line x1="580.4" y1="695.5" x2="580.4" y2="754.1" stroke="#111" stroke-width="1.9"/>
<line x1="574.1" y1="695.5" x2="586.7" y2="695.5" stroke="#111" stroke-width="1.9"/>
<line x1="574.1" y1="754.1" x2="586.7" y2="754.1" stroke="#111" stroke-width="1.9"/>
<line x1="580.4" y1="929.2" x2="580.4" y2="945.9" stroke="#111" stroke-width="1.9"/>
<line x1="574.1" y1="929.2" x2="586.7" y2="929.2" stroke="#111" stroke-width="1.9"/>
<line x1="574.1" y1="945.9" x2="586.7" y2="945.9" stroke="#111" stroke-width="1.9"/>
<line x1="580.4" y1="950.9" x2="580.4" y2="962.9" stroke="#111" stroke-width="1.9"/>
<line x1="574.1" y1="950.9" x2="586.7" y2="950.9" stroke="#111" stroke-width="1.9"/>
<line x1="574.1" y1="962.9" x2="586.7" y2="962.9" stroke="#111" stroke-width="1.9"/>
<line x1="616.0" y1="583.3" x2="616.0" y2="699.8" stroke="#111" stroke-width="1.9"/>
<line x1="609.7" y1="583.3" x2="622.3" y2="583.3" stroke="#111" stroke-width="1.9"/>
<line x1="609.7" y1="699.8" x2="622.3" y2="699.8" stroke="#111" stroke-width="1.9"/>
<line x1="616.0" y1="928.0" x2="616.0" y2="944.0" stroke="#111" stroke-width="1.9"/>
<line x1="609.7" y1="928.0" x2="622.3" y2="928.0" stroke="#111" stroke-width="1.9"/>
<line x1="609.7" y1="944.0" x2="622.3" y2="944.0" stroke="#111" stroke-width="1.9"/>
<line x1="616.0" y1="942.0" x2="616.0" y2="968.3" stroke="#111" stroke-width="1.9"/>
<line x1="609.7" y1="942.0" x2="622.3" y2="942.0" stroke="#111" stroke-width="1.9"/>
<line x1="609.7" y1="968.3" x2="622.3" y2="968.3" stroke="#111" stroke-width="1.9"/>
<line x1="651.6" y1="633.7" x2="651.6" y2="740.7" stroke="#111" stroke-width="1.9"/>
<line x1="645.3" y1="633.7" x2="657.9" y2="633.7" stroke="#111" stroke-width="1.9"/>
<line x1="645.3" y1="740.7" x2="657.9" y2="740.7" stroke="#111" stroke-width="1.9"/>
<line x1="651.6" y1="929.4" x2="651.6" y2="952.4" stroke="#111" stroke-width="1.9"/>
<line x1="645.3" y1="929.4" x2="657.9" y2="929.4" stroke="#111" stroke-width="1.9"/>
<line x1="645.3" y1="952.4" x2="657.9" y2="952.4" stroke="#111" stroke-width="1.9"/>
<line x1="651.6" y1="939.4" x2="651.6" y2="947.8" stroke="#111" stroke-width="1.9"/>
<line x1="645.3" y1="939.4" x2="657.9" y2="939.4" stroke="#111" stroke-width="1.9"/>
<line x1="645.3" y1="947.8" x2="657.9" y2="947.8" stroke="#111" stroke-width="1.9"/>
<rect x="331.2" y="557.5" width="177.8" height="458" fill="#808080" fill-opacity="0.26"/>
<rect x="85.2" y="556.5" width="598.3" height="459.9" fill="none" stroke="#000" stroke-width="2"/>
<line x1="79.4" y1="996.2" x2="84.5" y2="996.2" stroke="#000" stroke-width="2.6"/>
<text class="nf" transform="translate(77.26,1003.90) scale(0.96,1)" x="0" y="0" font-family="Liberation Sans, sans-serif" font-size="25" text-anchor="end">0</text>
<line x1="79.4" y1="876.2" x2="84.5" y2="876.2" stroke="#000" stroke-width="2.6"/>
<text class="nf" transform="translate(77.26,883.90) scale(0.96,1)" x="0" y="0" font-family="Liberation Sans, sans-serif" font-size="25" text-anchor="end">20</text>
<line x1="79.4" y1="755.9" x2="84.5" y2="755.9" stroke="#000" stroke-width="2.6"/>
<text class="nf" transform="translate(77.26,763.90) scale(0.96,1)" x="0" y="0" font-family="Liberation Sans, sans-serif" font-size="25" text-anchor="end">40</text>
<line x1="79.4" y1="636.3" x2="84.5" y2="636.3" stroke="#000" stroke-width="2.6"/>
<text class="nf" transform="translate(76.81,644.15) scale(0.96,1)" x="0" y="0" font-family="Liberation Sans, sans-serif" font-size="25" text-anchor="end">60</text>
<line x1="117.6" y1="1016.4" x2="117.6" y2="1022" stroke="#000" stroke-width="2.6"/>
<text class="nf" transform="translate(116.72,1042.19) scale(0.96,1)" x="0" y="0" font-family="Liberation Sans, sans-serif" font-size="25" text-anchor="middle">0</text>
<line x1="153.2" y1="1016.4" x2="153.2" y2="1022" stroke="#000" stroke-width="2.6"/>
<text class="nf" transform="translate(153.65,1042.20) scale(0.96,1)" x="0" y="0" font-family="Liberation Sans, sans-serif" font-size="25" text-anchor="middle">2</text>
<line x1="188.8" y1="1016.4" x2="188.8" y2="1022" stroke="#000" stroke-width="2.6"/>
<text class="nf" transform="translate(187.45,1042.22) scale(0.96,1)" x="0" y="0" font-family="Liberation Sans, sans-serif" font-size="25" text-anchor="middle">4</text>
<line x1="224.4" y1="1016.4" x2="224.4" y2="1022" stroke="#000" stroke-width="2.6"/>
<text class="nf" transform="translate(225.00,1042.19) scale(0.96,1)" x="0" y="0" font-family="Liberation Sans, sans-serif" font-size="25" text-anchor="middle">6</text>
<line x1="260.0" y1="1016.4" x2="260.0" y2="1022" stroke="#000" stroke-width="2.6"/>
<text class="nf" transform="translate(261.13,1042.20) scale(0.96,1)" x="0" y="0" font-family="Liberation Sans, sans-serif" font-size="25" text-anchor="middle">8</text>
<line x1="295.6" y1="1016.4" x2="295.6" y2="1022" stroke="#000" stroke-width="2.6"/>
<text class="nf" transform="translate(294.80,1042.20) scale(0.96,1)" x="0" y="0" font-family="Liberation Sans, sans-serif" font-size="25" text-anchor="middle">10</text>
<line x1="331.2" y1="1016.4" x2="331.2" y2="1022" stroke="#000" stroke-width="2.6"/>
<text class="nf" transform="translate(330.75,1042.20) scale(0.96,1)" x="0" y="0" font-family="Liberation Sans, sans-serif" font-size="25" text-anchor="middle">12</text>
<line x1="366.8" y1="1016.4" x2="366.8" y2="1022" stroke="#000" stroke-width="2.6"/>
<text class="nf" transform="translate(366.68,1042.20) scale(0.96,1)" x="0" y="0" font-family="Liberation Sans, sans-serif" font-size="25" text-anchor="middle">14</text>
<line x1="402.4" y1="1016.4" x2="402.4" y2="1022" stroke="#000" stroke-width="2.6"/>
<text class="nf" transform="translate(403.34,1042.20) scale(0.96,1)" x="0" y="0" font-family="Liberation Sans, sans-serif" font-size="25" text-anchor="middle">16</text>
<line x1="438.0" y1="1016.4" x2="438.0" y2="1022" stroke="#000" stroke-width="2.6"/>
<text class="nf" transform="translate(438.65,1042.20) scale(0.96,1)" x="0" y="0" font-family="Liberation Sans, sans-serif" font-size="25" text-anchor="middle">18</text>
<line x1="473.6" y1="1016.4" x2="473.6" y2="1022" stroke="#000" stroke-width="2.6"/>
<text class="nf" transform="translate(474.58,1042.20) scale(0.96,1)" x="0" y="0" font-family="Liberation Sans, sans-serif" font-size="25" text-anchor="middle">20</text>
<line x1="509.2" y1="1016.4" x2="509.2" y2="1022" stroke="#000" stroke-width="2.6"/>
<text class="nf" transform="translate(511.83,1042.20) scale(0.96,1)" x="0" y="0" font-family="Liberation Sans, sans-serif" font-size="25" text-anchor="middle">22</text>
<line x1="544.8" y1="1016.4" x2="544.8" y2="1022" stroke="#000" stroke-width="2.6"/>
<text class="nf" transform="translate(547.58,1042.20) scale(0.96,1)" x="0" y="0" font-family="Liberation Sans, sans-serif" font-size="25" text-anchor="middle">24</text>
<line x1="580.4" y1="1016.4" x2="580.4" y2="1022" stroke="#000" stroke-width="2.6"/>
<text class="nf" transform="translate(582.92,1042.20) scale(0.96,1)" x="0" y="0" font-family="Liberation Sans, sans-serif" font-size="25" text-anchor="middle">26</text>
<line x1="616.0" y1="1016.4" x2="616.0" y2="1022" stroke="#000" stroke-width="2.6"/>
<text class="nf" transform="translate(616.71,1042.20) scale(0.96,1)" x="0" y="0" font-family="Liberation Sans, sans-serif" font-size="25" text-anchor="middle">28</text>
<line x1="651.6" y1="1016.4" x2="651.6" y2="1022" stroke="#000" stroke-width="2.6"/>
<text class="nf" transform="translate(652.07,1042.20) scale(0.96,1)" x="0" y="0" font-family="Liberation Sans, sans-serif" font-size="25" text-anchor="middle">30</text>
<text x="268.5" y="1071.1" font-family="Liberation Sans, sans-serif" font-size="24.4">Hours after inoculation</text>
<text class="nf" transform="translate(29,941.6) rotate(-90)" font-family="Liberation Sans, sans-serif" font-size="24.5">Viral particles (x10<tspan font-size="15" dy="-9">6</tspan><tspan dy="9"> ml</tspan><tspan font-size="15" dy="-9">-1</tspan><tspan dy="9">)</tspan></text>
<text x="-0.5" y="579.3" font-family="Liberation Sans, sans-serif" font-size="35.5">B.</text>
<rect x="88.8" y="560.3" width="241" height="126.6" fill="#fff" stroke="#000" stroke-width="1.7"/>
<line x1="88.8" y1="594.3" x2="329.8" y2="594.3" stroke="#000" stroke-width="1.7"/>
<text class="nf" x="214.5" y="584.8" font-family="Liberation Sans, sans-serif" font-size="22.6" text-anchor="middle">Viral particles (ml<tspan font-size="14" dy="-8">-1</tspan><tspan dy="8">)</tspan></text>
<circle cx="121.1" cy="613.0" r="5.9" fill="#d61c34" stroke="#0a0a0a" stroke-width="2.5"/>
<path d="M121.1 633.7L126.9 639.5L121.1 645.3L115.3 639.5Z" fill="#ee780c" stroke="#0a0a0a" stroke-width="2.6"/>
<path d="M121.1 659.8L129.1 672.8L113.1 672.8Z" fill="#fabe1a" stroke="#0a0a0a" stroke-width="2.8"/>
<text class="nf" x="137" y="619.8" font-family="Liberation Sans, sans-serif" font-size="22.6">BII-V1 (MOI=0.1)</text>
<text class="nf" x="137" y="646.9" font-family="Liberation Sans, sans-serif" font-size="22.6">BII-V2 (MOI=0.1)</text>
<text class="nf" x="137" y="674" font-family="Liberation Sans, sans-serif" font-size="22.6">BII-V3 (MOI=0.01)</text>
<g transform="translate(77.26,105.55) scale(0.96,1)"><rect x="-26.94" y="-2.35" width="5.23" height="3.60" fill="#fff"/><rect x="-19.12" y="-2.35" width="4.93" height="3.60" fill="#fff"/></g>
<g transform="translate(75.72,17.82) scale(0.96,1)"><rect x="-43.94" y="-2.19" width="4.80" height="3.44" fill="#fff"/><rect x="-36.73" y="-2.19" width="4.52" height="3.44" fill="#fff"/></g>
<g transform="translate(292.80,517.50) scale(0.96,1)"><rect x="-13.03" y="-2.35" width="5.22" height="3.60" fill="#fff"/><rect x="-5.21" y="-2.35" width="4.93" height="3.60" fill="#fff"/></g>
<g transform="translate(329.18,517.50) scale(0.96,1)"><rect x="-13.03" y="-2.35" width="5.22" height="3.60" fill="#fff"/><rect x="-5.21" y="-2.35" width="4.93" height="3.60" fill="#fff"/></g>
<g transform="translate(364.03,517.50) scale(0.96,1)"><rect x="-13.03" y="-2.35" width="5.22" height="3.60" fill="#fff"/><rect x="-5.21" y="-2.35" width="4.93" height="3.60" fill="#fff"/></g>
<g transform="translate(400.06,517.50) scale(0.96,1)"><rect x="-13.03" y="-2.35" width="5.22" height="3.60" fill="#fff"/><rect x="-5.21" y="-2.35" width="4.93" height="3.60" fill="#fff"/></g>
<g transform="translate(437.34,517.50) scale(0.96,1)"><rect x="-13.03" y="-2.35" width="5.22" height="3.60" fill="#fff"/><rect x="-5.21" y="-2.35" width="4.93" height="3.60" fill="#fff"/></g>
<g transform="translate(29,339.5) rotate(-90)"><rect x="80.84" y="-2.27" width="5.01" height="3.52" fill="#fff"/><rect x="88.36" y="-2.27" width="4.72" height="3.52" fill="#fff"/></g>
<g transform="translate(29,339.5) rotate(-90)"><rect x="152.56" y="-10.55" width="3.07" height="2.80" fill="#fff"/><rect x="157.31" y="-10.55" width="2.90" height="2.80" fill="#fff"/></g>
<rect x="222.26" y="42.13" width="2.86" height="2.72" fill="#fff"/><rect x="226.70" y="42.13" width="2.69" height="2.72" fill="#fff"/>
<rect x="191.08" y="76.84" width="4.71" height="3.41" fill="#fff"/><rect x="198.17" y="76.84" width="4.44" height="3.41" fill="#fff"/>
<g transform="translate(294.80,1042.20) scale(0.96,1)"><rect x="-13.03" y="-2.35" width="5.22" height="3.60" fill="#fff"/><rect x="-5.21" y="-2.35" width="4.93" height="3.60" fill="#fff"/></g>
<g transform="translate(330.75,1042.20) scale(0.96,1)"><rect x="-13.03" y="-2.35" width="5.22" height="3.60" fill="#fff"/><rect x="-5.21" y="-2.35" width="4.93" height="3.60" fill="#fff"/></g>
<g transform="translate(366.68,1042.20) scale(0.96,1)"><rect x="-13.03" y="-2.35" width="5.22" height="3.60" fill="#fff"/><rect x="-5.21" y="-2.35" width="4.93" height="3.60" fill="#fff"/></g>
<g transform="translate(403.34,1042.20) scale(0.96,1)"><rect x="-13.03" y="-2.35" width="5.22" height="3.60" fill="#fff"/><rect x="-5.21" y="-2.35" width="4.93" height="3.60" fill="#fff"/></g>
<g transform="translate(438.65,1042.20) scale(0.96,1)"><rect x="-13.03" y="-2.35" width="5.22" height="3.60" fill="#fff"/><rect x="-5.21" y="-2.35" width="4.93" height="3.60" fill="#fff"/></g>
<g transform="translate(29,941.6) rotate(-90)"><rect x="174.67" y="-2.31" width="5.12" height="3.56" fill="#fff"/><rect x="182.34" y="-2.31" width="4.82" height="3.56" fill="#fff"/></g>
<g transform="translate(29,941.6) rotate(-90)"><rect x="247.60" y="-10.55" width="3.07" height="2.80" fill="#fff"/><rect x="252.36" y="-10.55" width="2.90" height="2.80" fill="#fff"/></g>
<rect x="296.08" y="575.33" width="2.86" height="2.72" fill="#fff"/><rect x="300.52" y="575.33" width="2.69" height="2.72" fill="#fff"/>
<rect x="187.99" y="617.64" width="4.71" height="3.41" fill="#fff"/><rect x="195.08" y="617.64" width="4.44" height="3.41" fill="#fff"/>
<rect x="289.07" y="617.64" width="4.71" height="3.41" fill="#fff"/><rect x="296.16" y="617.64" width="4.44" height="3.41" fill="#fff"/>
<rect x="289.07" y="644.74" width="4.71" height="3.41" fill="#fff"/><rect x="296.16" y="644.74" width="4.44" height="3.41" fill="#fff"/>
<rect x="301.65" y="671.84" width="4.71" height="3.41" fill="#fff"/><rect x="308.74" y="671.84" width="4.44" height="3.41" fill="#fff"/>
</svg>
</body></html>
